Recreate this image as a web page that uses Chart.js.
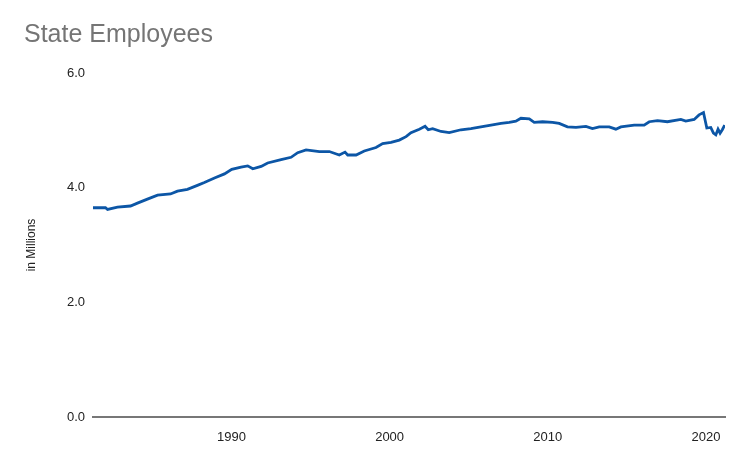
<!DOCTYPE html>
<html>
<head>
<meta charset="utf-8">
<script src="https://cdn.jsdelivr.net/npm/chart.js@4/dist/chart.umd.min.js"></script>
<style>
  html, body { margin: 0; padding: 0; background: #fff; }
  #wrap { width: 750px; height: 463px; }
</style>
</head>
<body>
<div id="wrap"><canvas id="chart" width="750" height="463"></canvas></div>
<script>
// values (year as decimal, employees in millions)
const years = [
  1981.25, 1982.04, 1982.17, 1982.80, 1983.62, 1984.06, 1984.69, 1985.33, 1986.15, 1986.59,
  1987.22, 1987.85, 1988.29, 1988.93, 1989.56, 1990.02, 1990.61, 1991.03, 1991.35, 1991.88,
  1992.29, 1993.14, 1993.77, 1994.19, 1994.72, 1995.56, 1996.19, 1996.82, 1997.18, 1997.35,
  1997.88, 1998.40, 1999.14, 1999.56, 2000.09, 2000.61, 2001.04, 2001.35, 2001.88, 2002.24,
  2002.44, 2002.72, 2003.25, 2003.77, 2004.51, 2005.14, 2005.77, 2006.41, 2007.04, 2007.56,
  2007.98, 2008.30, 2008.83, 2009.14, 2009.67, 2010.30, 2010.72, 2011.24, 2011.78, 2012.41,
  2012.82, 2013.25, 2013.88, 2014.30, 2014.62, 2015.46, 2016.09, 2016.41, 2016.93, 2017.56,
  2018.41, 2018.72, 2019.25, 2019.56, 2019.84, 2020.05, 2020.30, 2020.47, 2020.62, 2020.76,
  2020.89, 2021.03, 2021.18
];
const employees = [
  3.65, 3.65, 3.62, 3.66, 3.68, 3.73, 3.80, 3.87, 3.89, 3.94,
  3.97, 4.04, 4.09, 4.17, 4.24, 4.32, 4.36, 4.38, 4.33, 4.37,
  4.43, 4.49, 4.53, 4.61, 4.66, 4.63, 4.63, 4.57, 4.62, 4.57,
  4.57, 4.64, 4.70, 4.77, 4.79, 4.83, 4.89, 4.96, 5.02, 5.07,
  5.01, 5.03, 4.98, 4.96, 5.01, 5.03, 5.06, 5.09, 5.12, 5.14,
  5.16, 5.21, 5.20, 5.14, 5.15, 5.14, 5.12, 5.06, 5.05, 5.07,
  5.03, 5.06, 5.06, 5.02, 5.06, 5.09, 5.09, 5.15, 5.17, 5.15,
  5.19, 5.16, 5.19, 5.27, 5.31, 5.04, 5.05, 4.95, 4.92, 5.02,
  4.95, 5.01, 5.09
];
const xTicks = [1990, 2000, 2010, 2020];
const yTicks = [0, 2, 4, 6];

const font = "'Liberation Sans', Arial, sans-serif";

new Chart(document.getElementById('chart'), {
  type: 'line',
  data: {
    datasets: [{
      data: years.map((y, i) => ({ x: y, y: employees[i] })),
      borderColor: '#0c56a6',
      borderWidth: 2.8,
      pointRadius: 0,
      tension: 0,
      fill: false
    }]
  },
  options: {
    responsive: false,
    animation: false,
    layout: { padding: { left: 24, right: 25, top: 0, bottom: 0 } },
    plugins: {
      legend: { display: false },
      tooltip: { enabled: false },
      title: {
        display: true,
        text: 'State Employees',
        align: 'start',
        color: '#757575',
        font: { family: font, size: 25, weight: 'normal' },
        padding: { top: 20, bottom: 23 }
      }
    },
    scales: {
      x: {
        type: 'linear',
        min: 1981.25,
        max: 2021.2,
        grid: { display: false, drawTicks: false },
        border: { display: true, color: '#777', width: 2 },
        afterBuildTicks: (s) => { s.ticks = xTicks.map(v => ({ value: v })); },
        afterFit: (s) => { s.height = 46; },
        ticks: {
          color: '#222',
          padding: 13,
          maxRotation: 0,
          font: { family: font, size: 13 },
          callback: (v) => String(v)
        }
      },
      y: {
        min: 0,
        max: 6,
        grid: { display: false, drawTicks: false },
        border: { display: false },
        afterBuildTicks: (s) => { s.ticks = yTicks.map(v => ({ value: v })); },
        afterFit: (s) => { s.width = 69; },
        title: {
          display: true,
          text: 'in Millions',
          color: '#222',
          font: { family: font, size: 12 },
          padding: { top: 0, bottom: 0 }
        },
        ticks: {
          color: '#222',
          padding: 8,
          font: { family: font, size: 13 },
          callback: (v) => v.toFixed(1)
        }
      }
    }
  }
});
</script>
</body>
</html>
